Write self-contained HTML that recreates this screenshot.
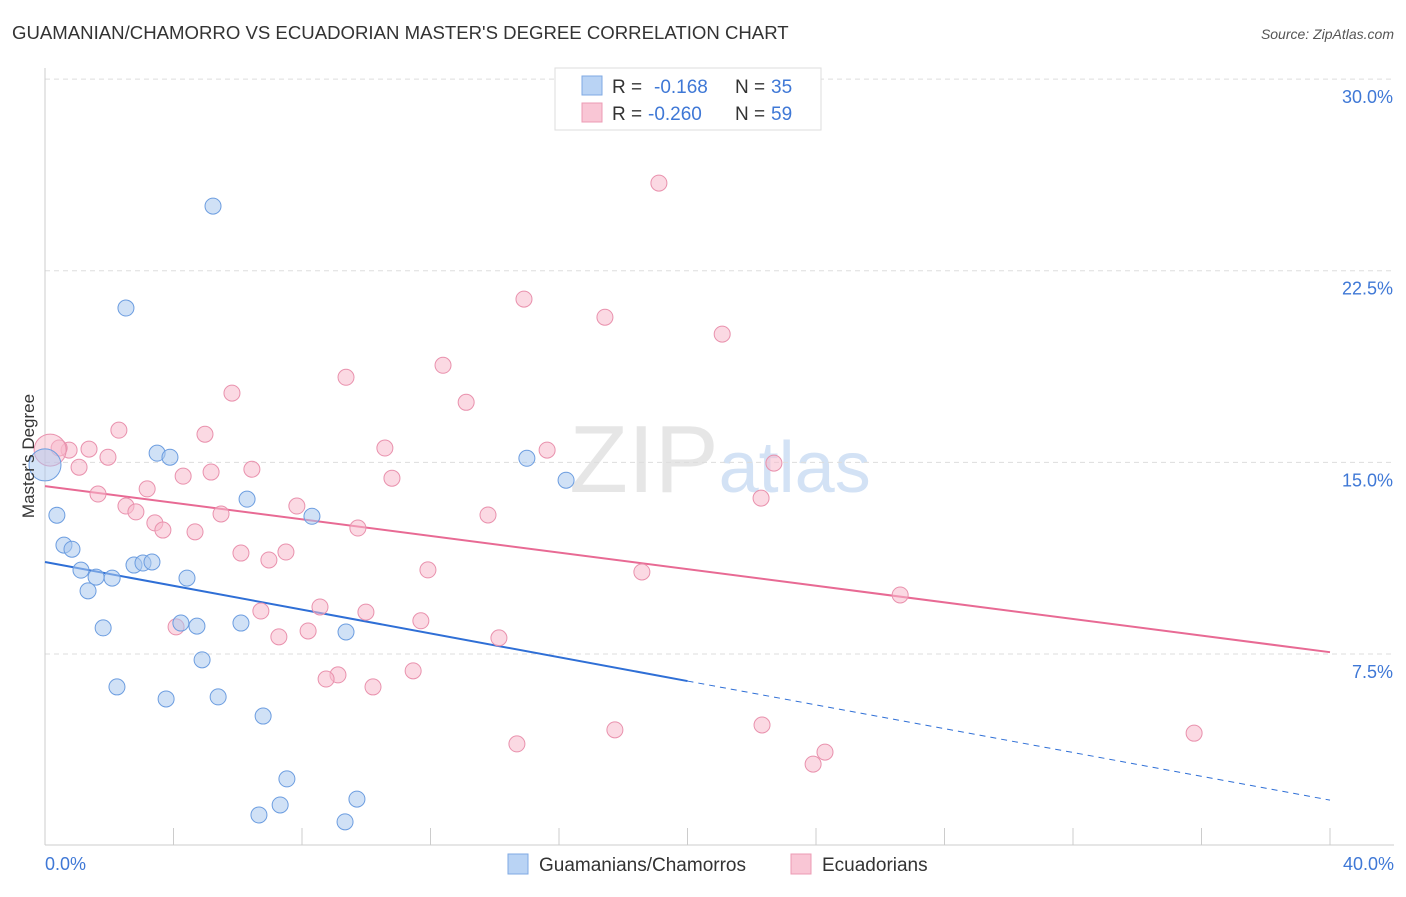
<!DOCTYPE html>
<html><head><meta charset="utf-8"><style>
body{margin:0;background:#fff;font-family:"Liberation Sans",sans-serif;}
svg text{font-family:"Liberation Sans",sans-serif;}
</style></head><body>
<svg id="chart" width="1406" height="892" xmlns="http://www.w3.org/2000/svg">
<text x="12" y="39" font-size="18.6" fill="#333">GUAMANIAN/CHAMORRO VS ECUADORIAN MASTER'S DEGREE CORRELATION CHART</text>
<text x="1394" y="39" font-size="14" fill="#555" text-anchor="end" font-style="italic">Source: ZipAtlas.com</text>
<text x="720" y="492" font-size="96" fill="#e6e6e6" text-anchor="middle" font-family="Liberation Serif">ZIP<tspan fill="#d3e2f5" font-family="Liberation Sans" font-size="72">atlas</tspan></text>
<g id="grid"></g>
<g id="axes"></g>
<g id="trends"></g>
<g id="points"></g>
<text transform="translate(34,456) rotate(-90)" font-size="17" fill="#333" text-anchor="middle">Master's Degree</text>
<g>
<rect x="555" y="68" width="266" height="62" fill="#fff" stroke="#ddd"/>
<rect x="582" y="76" width="20" height="19" fill="#b9d3f4" stroke="#7fa9e3"/>
<rect x="582" y="103" width="20" height="19" fill="#f9c6d5" stroke="#ec9bb4"/>
<text x="612" y="93" font-size="19" fill="#333">R = </text><text x="654" y="93" font-size="19" fill="#3f78d6">-0.168</text>
<text x="735" y="93" font-size="19" fill="#333">N = </text><text x="771" y="93" font-size="19" fill="#3f78d6">35</text>
<text x="612" y="120" font-size="19" fill="#333">R = </text><text x="648" y="120" font-size="19" fill="#3f78d6">-0.260</text>
<text x="735" y="120" font-size="19" fill="#333">N = </text><text x="771" y="120" font-size="19" fill="#3f78d6">59</text>
</g>
<g>
<rect x="508" y="854" width="20" height="20" fill="#b9d3f4" stroke="#7fa9e3"/>
<text x="539" y="871" font-size="19" fill="#333">Guamanians/Chamorros</text>
<rect x="791" y="854" width="20" height="20" fill="#f9c6d5" stroke="#ec9bb4"/>
<text x="822" y="871" font-size="19" fill="#333">Ecuadorians</text>
</g>
</svg>
<script>
const yTicks=[7.5,15,22.5,30];
const yTickLabels=["7.5%","15.0%","22.5%","30.0%"];
const xTickLabels=["0.0%","40.0%"];
const blueX=[5.23,2.52,3.49,3.89,15.00,16.22,6.29,0.37,8.31,0.59,0.84,1.12,1.59,2.09,2.77,3.05,3.33,4.42,1.34,4.23,4.73,6.10,1.81,9.37,4.89,2.24,3.77,5.39,6.79,7.53,9.71,7.32,6.66,9.34,0];
const blueY=[25.03,21.04,15.36,15.20,15.16,14.30,13.56,12.93,12.89,11.76,11.60,10.78,10.51,10.47,10.98,11.06,11.10,10.47,9.97,8.71,8.59,8.71,8.52,8.36,7.27,6.21,5.74,5.82,5.07,2.61,1.82,1.59,1.20,0.93,14.90];
const pinkX=[19.11,14.91,17.43,21.08,9.37,12.39,5.82,13.11,2.30,4.98,10.58,15.63,1.37,0.75,0.44,1.96,1.06,4.30,5.17,6.44,10.80,22.69,1.65,3.18,2.52,2.83,7.84,13.79,22.29,5.48,3.42,3.67,4.67,9.74,6.10,7.50,6.97,11.92,18.58,8.56,6.72,9.99,26.62,11.70,4.08,7.28,8.19,14.13,11.46,9.12,8.75,10.21,22.32,17.74,14.69,24.28,23.91,35.77,0.16];
const pinkY=[25.93,21.39,20.68,20.02,18.33,18.80,17.71,17.35,16.26,16.10,15.56,15.48,15.52,15.48,15.56,15.20,14.81,14.46,14.62,14.73,14.38,14.97,13.76,13.96,13.29,13.06,13.29,12.94,13.60,12.98,12.63,12.35,12.28,12.43,11.45,11.49,11.18,10.79,10.71,9.34,9.18,9.14,9.81,8.80,8.56,8.17,8.40,8.13,6.84,6.68,6.52,6.21,4.72,4.53,3.98,3.66,3.19,4.40,15.48];
const blueTrend=[11.10,1.78];
const pinkTrend=[14.07,7.57];
const NS="http://www.w3.org/2000/svg";
const X=v=>45+v/40*1285;
const Y=v=>845.6-v*25.55;
function mk(tag,attrs,parent){const e=document.createElementNS(NS,tag);for(const k in attrs)e.setAttribute(k,attrs[k]);document.getElementById(parent).appendChild(e);return e;}
yTicks.forEach((t,i)=>{
 const l=mk('line',{x1:45,x2:1394,y1:Y(t),y2:Y(t),stroke:'#ddd','stroke-dasharray':'5,4'},'grid');
 
 
 const tx=mk('text',{x:1393,y:Y(t)+24,'font-size':18,fill:'#3f78d6','text-anchor':'end'},'grid');
 tx.textContent=yTickLabels[i];
 
 
});
const ax=mk('line',{x1:45,x2:1394,y1:845,y2:845,stroke:'#ccc'},'axes');


const ay=mk('line',{x1:45,x2:45,y1:68,y2:845,stroke:'#ccc'},'axes');


for(let i=0;i<=10;i++){
 const t=mk('line',{x1:X(i*4),x2:X(i*4),y1:828,y2:845,stroke:'#ccc'},'axes');
 
 
}
[[0,'start',45],[40,'end',1394]].forEach((d,i)=>{
 const t=mk('text',{x:d[2],y:870,'font-size':18,fill:'#3f78d6','text-anchor':d[1]},'axes');
 t.textContent=xTickLabels[i];
 
 
});
const bs=blueTrend[0]+(blueTrend[1]-blueTrend[0])*(20/40);
const b1=mk('line',{x1:X(0),y1:Y(blueTrend[0]),x2:X(20),y2:Y(bs),stroke:'#2f6fd6','stroke-width':2},'trends');


const b2=mk('line',{x1:X(20),y1:Y(bs),x2:X(40),y2:Y(blueTrend[1]),stroke:'#2f6fd6','stroke-width':1,'stroke-dasharray':'6,5'},'trends');


const p1=mk('line',{x1:X(0),y1:Y(pinkTrend[0]),x2:X(40),y2:Y(pinkTrend[1]),stroke:'#e86a94','stroke-width':2},'trends');


function pts(xs,ys,fill,stroke,name){
 xs.forEach((x,i)=>{
  const big=i===xs.length-1&&x<0.5;
  const c=mk('circle',{cx:X(x),cy:Y(ys[i]),r:big?16:8,fill:fill,'fill-opacity':big?0.5:0.55,stroke:stroke,'stroke-width':1},'points');
  
  
 });
}
pts(pinkX,pinkY,'#f7b9cc','#e991ad','ecuadorian-point');
pts(blueX,blueY,'#a9c8ef','#6c9de0','guamanian-point');
</script>
</body></html>
